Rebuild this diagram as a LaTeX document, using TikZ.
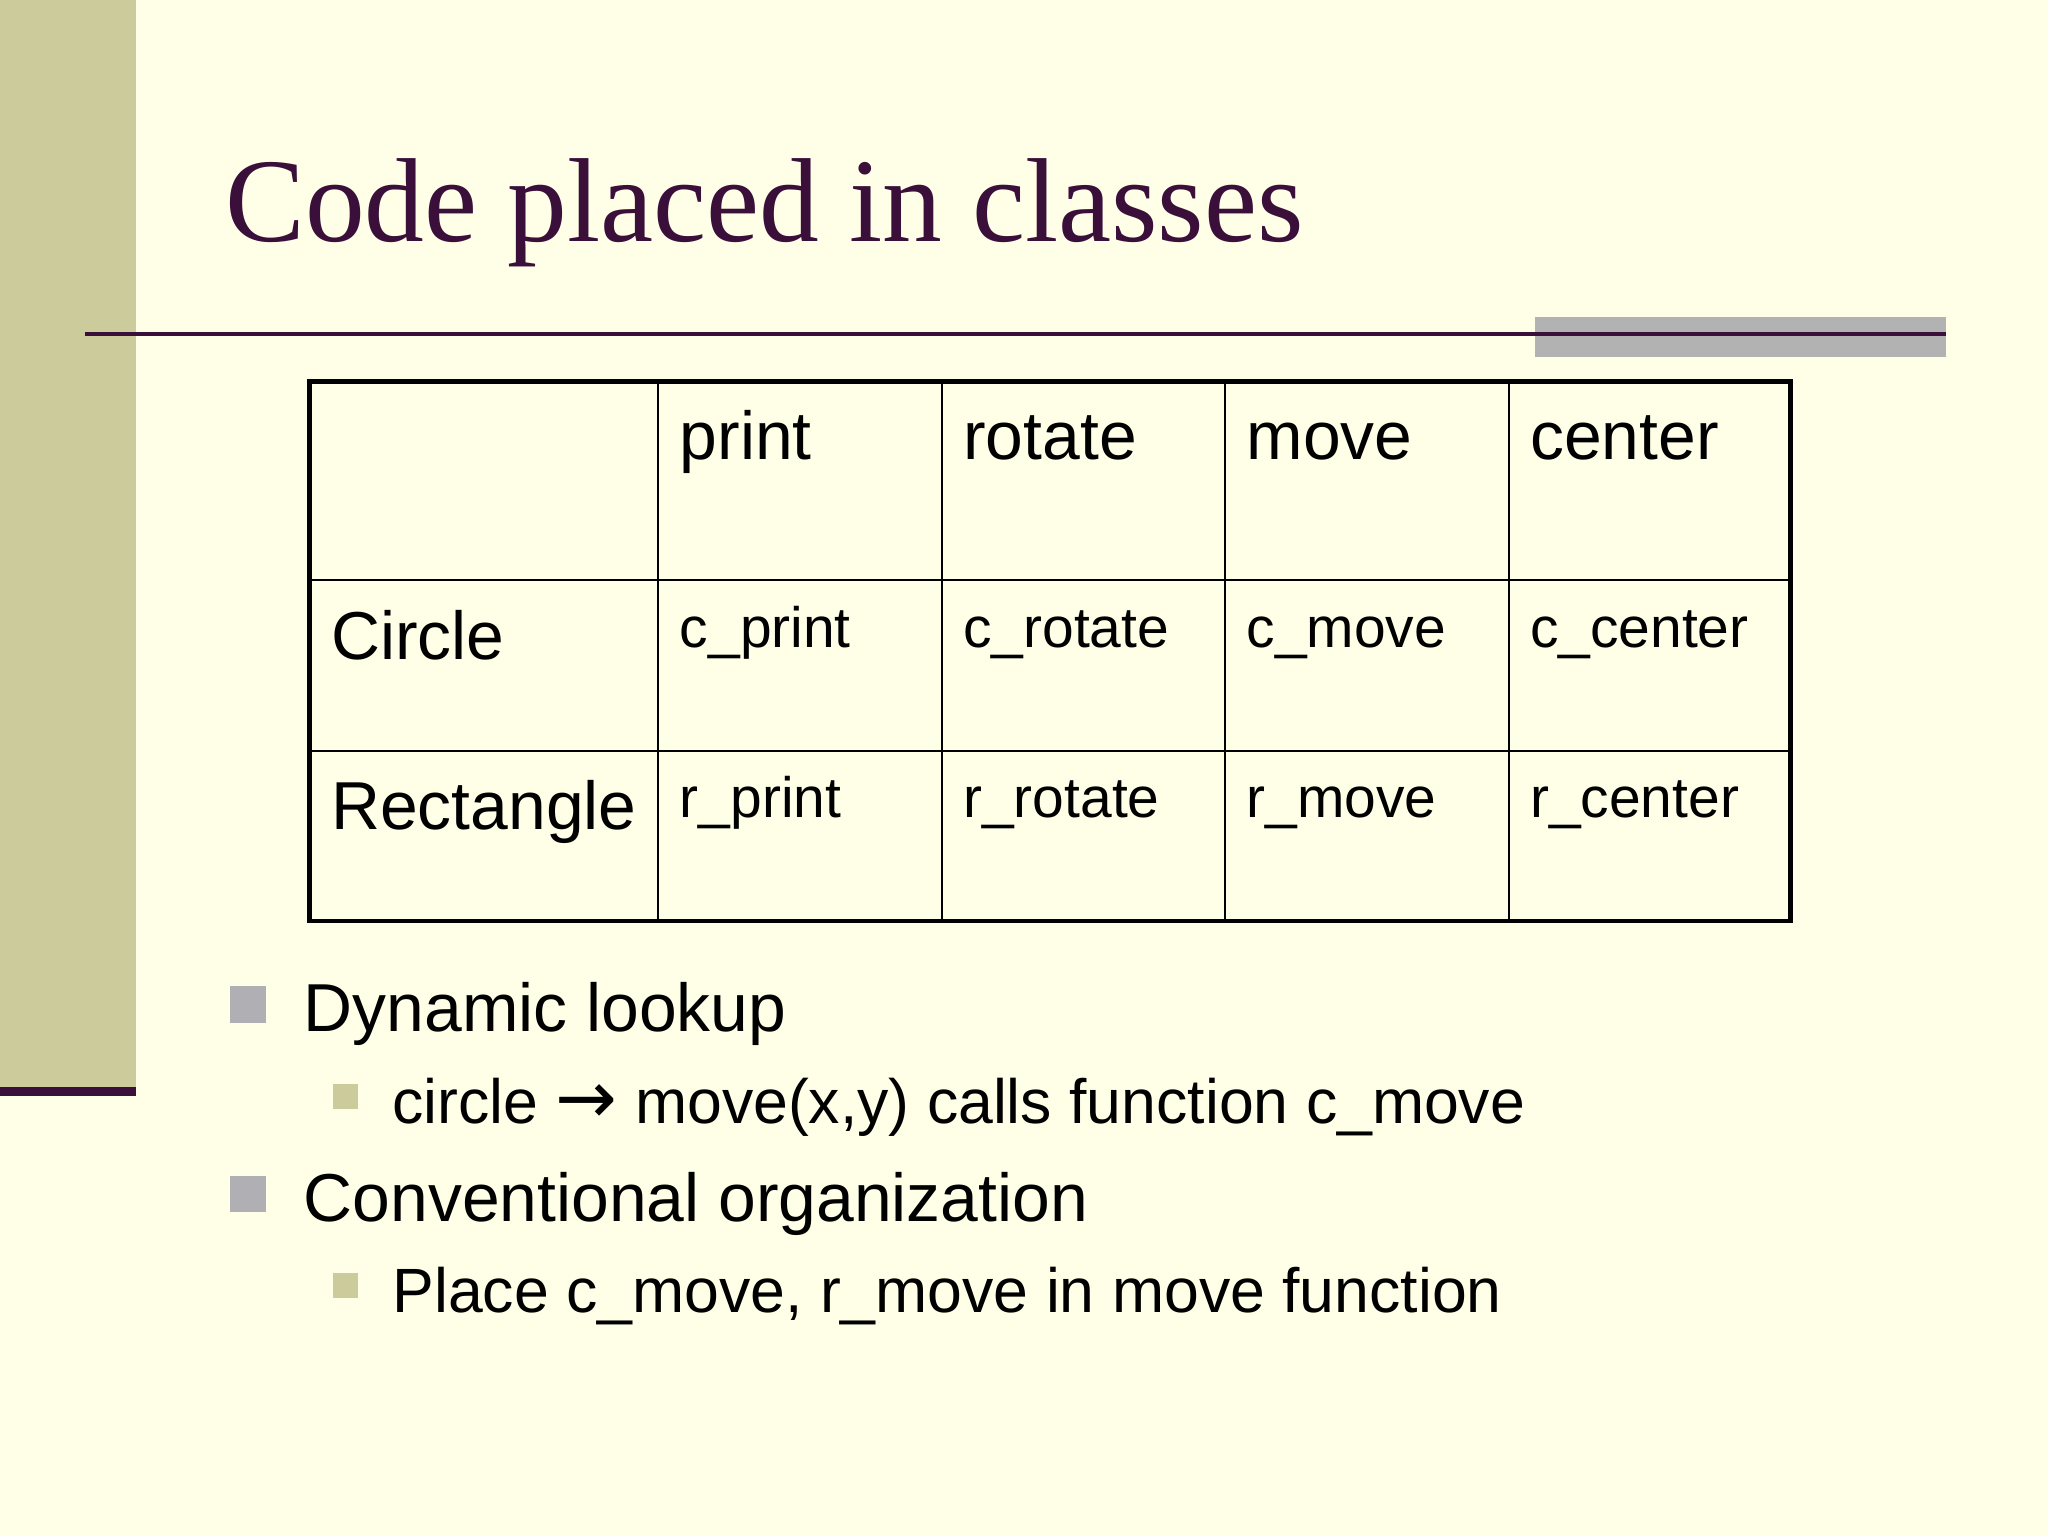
\documentclass[tikz,border=0pt]{standalone}
\usepackage{fontspec}
\setmainfont{Liberation Sans}
\newfontfamily\titlefont{Liberation Serif}
\newfontfamily\symfont{DejaVu Sans}
\usetikzlibrary{calc}
\definecolor{slidebg}{HTML}{FFFFE8}
\definecolor{sidebar}{HTML}{CBCB9C}
\definecolor{plum}{HTML}{3A0F3A}
\definecolor{bargray}{HTML}{B2B2B2}
\definecolor{bulgray}{HTML}{AFAFB4}
\definecolor{bulolive}{HTML}{CBCB9C}
\tikzset{
  head/.style={anchor=base west, inner sep=0pt, font=\fontsize{19.3}{21}\selectfont},
  cell/.style={anchor=base west, inner sep=0pt, font=\fontsize{16.2}{18}\selectfont},
  item/.style={anchor=base west, inner sep=0pt, font=\fontsize{19.3}{21}\selectfont},
  subitem/.style={anchor=base west, inner sep=0pt, font=\fontsize{17.8}{19}\selectfont}
}
\begin{document}
\begin{tikzpicture}[x=0.013061cm, y=-0.013061cm]
  % background and side bar
  \fill[slidebg] (0,0) rectangle (1568,1176);
  \useasboundingbox (0,0) rectangle (1568,1176);
  \fill[sidebar] (0,0) rectangle (104,835);
  \fill[plum] (0,832) rectangle (104,839);

  % title and rule
  \node[anchor=base west, inner sep=0pt, text=plum, font=\titlefont\fontsize{34}{38}\selectfont] (title) at (172,185) {Code placed in classes};
  \fill[bargray] (1175,243) rectangle (1490,273);
  \draw[plum, line width=1.2pt] (65,256) -- (1490,256);

  % table grid
  \foreach \x in {504,721,938,1155}
    \draw[line width=0.6pt] (\x,292) -- (\x,705);
  \foreach \y in {444,575}
    \draw[line width=0.6pt] (237,\y) -- (1371,\y);
  \draw[line width=1.3pt] (237,292) rectangle (1371,705);

  % header row
  \node[head] (hprint) at (520,352) {print};
  \node[head] (hrotate) at (737,352) {rotate};
  \node[head] (hmove) at (954,352) {move};
  \node[head] (hcenter) at (1171,352) {center};

  % class rows
  \node[head] (circle) at (253,505) {Circle};
  \node[head] (rect) at (253,635) {Rectangle};
  \node[cell] (cprint) at (520,496) {c\_print};
  \node[cell] (crotate) at (737,496) {c\_rotate};
  \node[cell] (cmove) at (954,496) {c\_move};
  \node[cell] (ccenter) at (1171,496) {c\_center};
  \node[cell] (rprint) at (520,626) {r\_print};
  \node[cell] (rrotate) at (737,626) {r\_rotate};
  \node[cell] (rmove) at (954,626) {r\_move};
  \node[cell] (rcenter) at (1171,626) {r\_center};

  % bullets
  \fill[bulgray] (176,755) rectangle (204,783);
  \node[item] (lookup) at (232,790) {Dynamic lookup};
  \fill[bulolive] (255,830) rectangle (274,849);
  \node[subitem] (call) at (300,860) {circle {\symfont\fontsize{21}{21}\selectfont →} move(x,y) calls function c\_move};
  \fill[bulgray] (176,900) rectangle (204,928);
  \node[item] (conv) at (232,935) {Conventional organization};
  \fill[bulolive] (255,975) rectangle (274,994);
  \node[subitem] (place) at (300,1005) {Place c\_move, r\_move in move function};
\end{tikzpicture}
\end{document}
